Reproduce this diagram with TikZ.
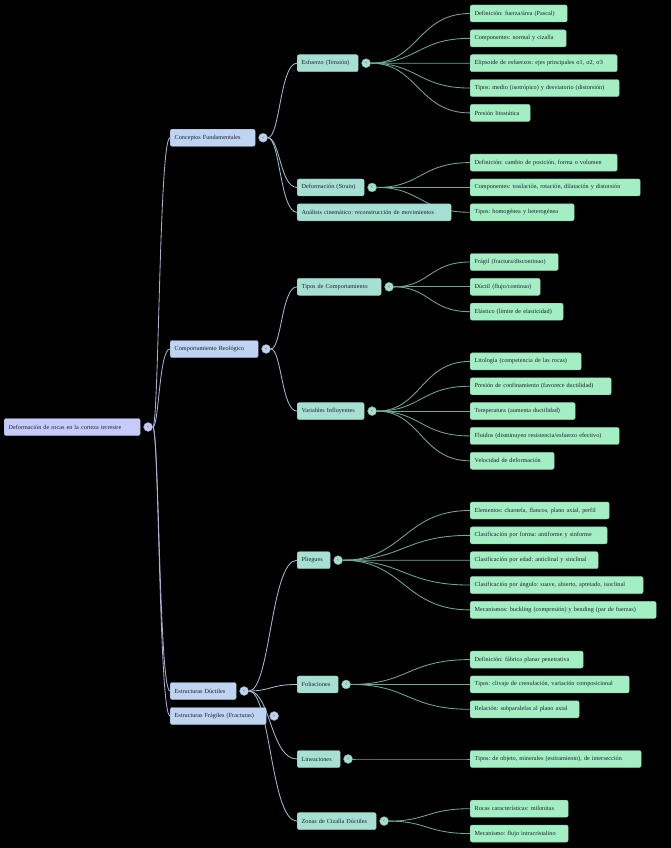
\documentclass[tikz,border=0pt]{standalone}
\usepackage{fontspec}
\setmainfont{Liberation Serif}
\usetikzlibrary{calc, positioning}

\pgfdeclarelayer{bg}
\pgfdeclarelayer{edges}
\pgfsetlayers{bg,edges,main}

\definecolor{rootfill}{RGB}{200,202,250}
\definecolor{topicfill}{RGB}{190,212,240}
\definecolor{subfill}{RGB}{166,224,210}
\definecolor{leaffill}{RGB}{164,238,196}
\definecolor{rootline}{RGB}{172,174,214}
\definecolor{topicline}{RGB}{160,186,204}
\definecolor{subline}{RGB}{112,168,148}
\definecolor{inktext}{RGB}{30,32,48}

\begin{document}
\begin{tikzpicture}[
        x=1pt, y=-1pt,
        box/.style={rectangle, rounded corners=2pt, anchor=west, minimum height=17pt, inner xsep=4.5pt, inner ysep=0pt, align=left, text=inktext, font=\fontsize{6.2}{7}\selectfont\frenchspacing},
        mainnode/.style={box, fill=rootfill, draw=rootfill!85!black, text width=#1},
        topic/.style={box, fill=topicfill, draw=topicfill!85!black, text width=#1},
        subtopic/.style={box, fill=subfill, draw=subfill!85!black, text width=#1},
        leaf/.style={box, fill=leaffill, draw=leaffill!85!black, text width=#1},
        toggle/.style={circle, minimum size=9pt, inner sep=0pt, line width=0.4pt, text=inktext, font=\fontsize{4.5}{5}\selectfont},
        mmlink/.style={line width=0.85pt, to path={(\tikztostart) .. controls ($(\tikztostart)!0.5!(\tikztotarget |- \tikztostart)$) and ($(\tikztostart |- \tikztotarget)!0.5!(\tikztotarget)$) .. (\tikztotarget)}}
        ]

        \begin{pgfonlayer}{bg}
            \fill [black] (0,0) rectangle (671,848);
        \end{pgfonlayer}

        % root and main branches
        \node (node0)  [mainnode=127pt] at (4,427)    {Deformación de rocas en la corteza terrestre};
        \node (node1)  [topic=76pt]     at (170,137.75) {Conceptos Fundamentales};
        \node (node2)  [topic=79pt]     at (170,349)  {Comportamiento Reológico};
        \node (node3)  [topic=57pt]     at (170,691)  {Estructuras Dúctiles};
        \node (node4)  [topic=87pt]     at (170,716)  {Estructuras Frágiles (Fracturas)};

        % second level
        \node (node11) [subtopic=52pt]  at (297,63.2)   {Esfuerzo (Tensión)};
        \node (node12) [subtopic=58pt]  at (297,187.45) {Deformación (Strain)};
        \node (node13) [subtopic=145pt] at (297,212.3)  {Análisis cinemático: reconstrucción de movimientos};
        \node (node21) [subtopic=75pt]  at (297,286.85) {Tipos de Comportamiento};
        \node (node22) [subtopic=58pt]  at (297,411.1)  {Variables Influyentes};
        \node (node31) [subtopic=24pt]  at (297,560.2)  {Pliegues};
        \node (node32) [subtopic=32pt]  at (297,684.45) {Foliaciones};
        \node (node33) [subtopic=34pt]  at (297,759)    {Lineaciones};
        \node (node34) [subtopic=70pt]  at (297,821.1)  {Zonas de Cizalla Dúctiles};

        % leaves
        \node (node111) [leaf=88pt]  at (470,13.5)   {Definición: fuerza/área (Pascal)};
        \node (node112) [leaf=87pt]  at (470,38.35)  {Componentes: normal y cizalla};
        \node (node113) [leaf=138pt] at (470,63.2)   {Elipsoide de esfuerzos: ejes principales σ1, σ2, σ3};
        \node (node114) [leaf=140pt] at (470,88.05)  {Tipos: medio (isotrópico) y desviatorio (distorsión)};
        \node (node115) [leaf=51pt]  at (470,112.9)  {Presión litostática};
        \node (node121) [leaf=138pt] at (470,162.6)  {Definición: cambio de posición, forma o volumen};
        \node (node122) [leaf=161pt] at (470,187.45) {Componentes: traslación, rotación, dilatación y distorsión};
        \node (node123) [leaf=95pt]  at (470,212.3)  {Tipos: homogénea y heterogénea};
        \node (node211) [leaf=79pt]  at (470,262)    {Frágil (fractura/discontinuo)};
        \node (node212) [leaf=61pt]  at (470,286.85) {Dúctil (flujo/continuo)};
        \node (node213) [leaf=84pt]  at (470,311.7)  {Elástico (límite de elasticidad)};
        \node (node221) [leaf=102pt] at (470,361.4)  {Litología (competencia de las rocas)};
        \node (node222) [leaf=132pt] at (470,386.25) {Presión de confinamiento (favorece ductilidad)};
        \node (node223) [leaf=96pt]  at (470,411.1)  {Temperatura (aumenta ductilidad)};
        \node (node224) [leaf=140pt] at (470,435.95) {Fluidos (disminuyen resistencia/esfuerzo efectivo)};
        \node (node225) [leaf=75pt]  at (470,460.8)  {Velocidad de deformación};
        \node (node311) [leaf=130pt] at (470,510.5)  {Elementos: charnela, flancos, plano axial, perfil};
        \node (node312) [leaf=128pt] at (470,535.35) {Clasificación por forma: antiforme y sinforme};
        \node (node313) [leaf=119pt] at (470,560.2)  {Clasificación por edad: anticlinal y sinclinal};
        \node (node314) [leaf=164pt] at (470,585.05) {Clasificación por ángulo: suave, abierto, apretado, isoclinal};
        \node (node315) [leaf=177pt] at (470,609.9)  {Mecanismos: buckling (compresión) y bending (par de fuerzas)};
        \node (node321) [leaf=104pt] at (470,659.6)  {Definición: fábrica planar penetrativa};
        \node (node322) [leaf=150pt] at (470,684.45) {Tipos: clivaje de crenulación, variación composicional};
        \node (node323) [leaf=100pt] at (470,709.3)  {Relación: subparalelas al plano axial};
        \node (node331) [leaf=162pt] at (470,759)    {Tipos: de objeto, minerales (estiramiento), de intersección};
        \node (node341) [leaf=89pt]  at (470,808.7)  {Rocas características: milonitas};
        \node (node342) [leaf=89pt]  at (470,833.55) {Mecanismo: flujo intracristalino};

        % collapse buttons
        \node (tog0)  [toggle, fill=rootfill,  draw=rootfill!70!black,  right=3pt of node0]  {<};
        \node (tog1)  [toggle, fill=topicfill, draw=topicfill!70!black, right=3pt of node1]  {<};
        \node (tog2)  [toggle, fill=topicfill, draw=topicfill!70!black, right=3pt of node2]  {<};
        \node (tog3)  [toggle, fill=topicfill, draw=topicfill!70!black, right=3pt of node3]  {<};
        \node (tog4)  [toggle, fill=topicfill, draw=topicfill!70!black, right=3pt of node4]  {>};
        \node (tog11) [toggle, fill=subfill,   draw=subfill!70!black,   right=3pt of node11] {<};
        \node (tog12) [toggle, fill=subfill,   draw=subfill!70!black,   right=3pt of node12] {<};
        \node (tog21) [toggle, fill=subfill,   draw=subfill!70!black,   right=3pt of node21] {<};
        \node (tog22) [toggle, fill=subfill,   draw=subfill!70!black,   right=3pt of node22] {<};
        \node (tog31) [toggle, fill=subfill,   draw=subfill!70!black,   right=3pt of node31] {<};
        \node (tog32) [toggle, fill=subfill,   draw=subfill!70!black,   right=3pt of node32] {<};
        \node (tog33) [toggle, fill=subfill,   draw=subfill!70!black,   right=3pt of node33] {<};
        \node (tog34) [toggle, fill=subfill,   draw=subfill!70!black,   right=3pt of node34] {<};

        \begin{pgfonlayer}{edges}
        % root branches
        \draw [mmlink, rootline] (tog0) to (node1.west);
        \draw [mmlink, rootline] (tog0) to (node2.west);
        \draw [mmlink, rootline] (tog0) to (node3.west);
        \draw [mmlink, rootline] (tog0) to (node4.west);

        % second level branches
        \draw [mmlink, topicline] (tog1) to (node11.west);
        \draw [mmlink, topicline] (tog1) to (node12.west);
        \draw [mmlink, topicline] (tog1) to (node13.west);
        \draw [mmlink, topicline] (tog2) to (node21.west);
        \draw [mmlink, topicline] (tog2) to (node22.west);
        \draw [mmlink, topicline] (tog3) to (node31.west);
        \draw [mmlink, topicline] (tog3) to (node32.west);
        \draw [mmlink, topicline] (tog3) to (node33.west);
        \draw [mmlink, topicline] (tog3) to (node34.west);

        % leaf branches
        \draw [mmlink, subline] (tog11) to (node111.west);
        \draw [mmlink, subline] (tog11) to (node112.west);
        \draw [mmlink, subline] (tog11) to (node113.west);
        \draw [mmlink, subline] (tog11) to (node114.west);
        \draw [mmlink, subline] (tog11) to (node115.west);
        \draw [mmlink, subline] (tog12) to (node121.west);
        \draw [mmlink, subline] (tog12) to (node122.west);
        \draw [mmlink, subline] (tog12) to (node123.west);
        \draw [mmlink, subline] (tog21) to (node211.west);
        \draw [mmlink, subline] (tog21) to (node212.west);
        \draw [mmlink, subline] (tog21) to (node213.west);
        \draw [mmlink, subline] (tog22) to (node221.west);
        \draw [mmlink, subline] (tog22) to (node222.west);
        \draw [mmlink, subline] (tog22) to (node223.west);
        \draw [mmlink, subline] (tog22) to (node224.west);
        \draw [mmlink, subline] (tog22) to (node225.west);
        \draw [mmlink, subline] (tog31) to (node311.west);
        \draw [mmlink, subline] (tog31) to (node312.west);
        \draw [mmlink, subline] (tog31) to (node313.west);
        \draw [mmlink, subline] (tog31) to (node314.west);
        \draw [mmlink, subline] (tog31) to (node315.west);
        \draw [mmlink, subline] (tog32) to (node321.west);
        \draw [mmlink, subline] (tog32) to (node322.west);
        \draw [mmlink, subline] (tog32) to (node323.west);
        \draw [mmlink, subline] (tog33) to (node331.west);
        \draw [mmlink, subline] (tog34) to (node341.west);
        \draw [mmlink, subline] (tog34) to (node342.west);
        \end{pgfonlayer}

    \end{tikzpicture}
\end{document}
